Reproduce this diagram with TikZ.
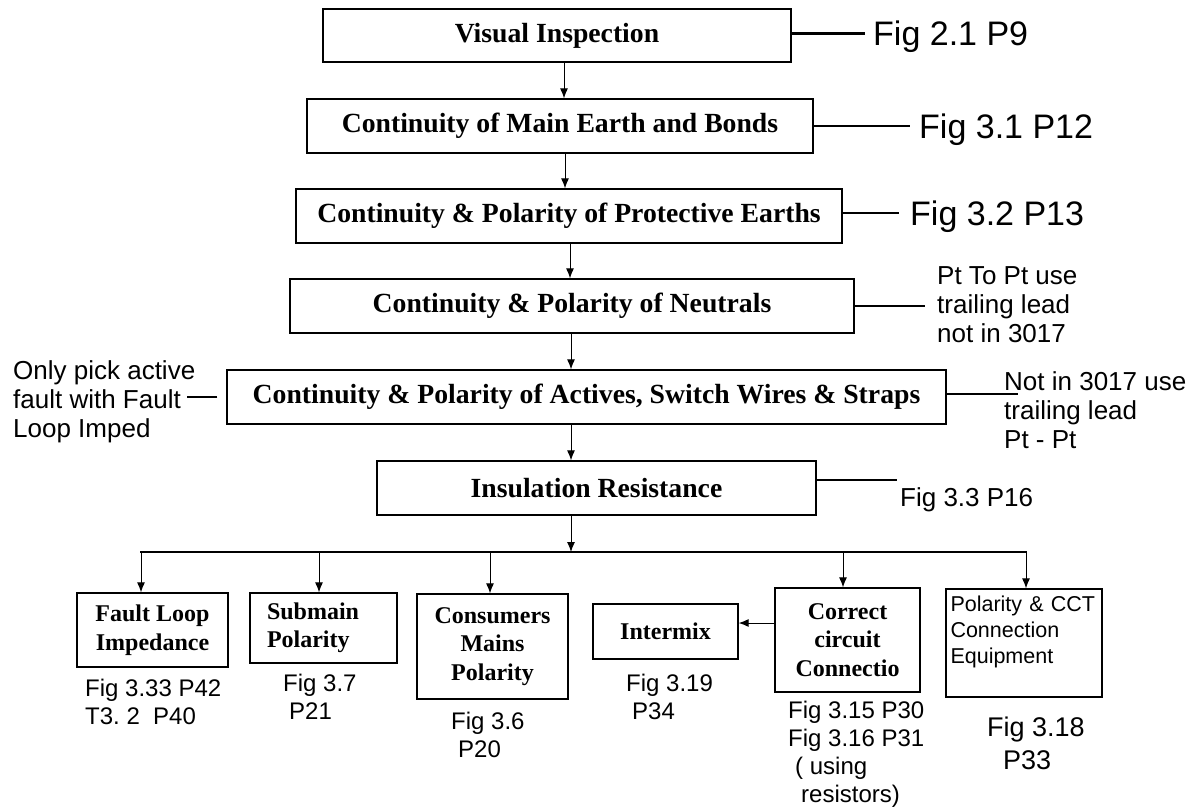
\documentclass[tikz,border=0pt]{standalone}
\usepackage{fontspec}
\setmainfont{Liberation Serif}
\newfontfamily\arial{Liberation Sans}
\usetikzlibrary{arrows.meta}
\tikzset{
 box/.style={draw, line width=1.3pt, inner sep=0pt, font=\bfseries\fontsize{27.7}{32}\selectfont},
 sbox/.style={draw, line width=1.3pt, inner sep=0pt, align=center, font=\bfseries\fontsize{24}{28.5}\selectfont},
 arr/.style={line width=1pt, -{Latex[length=10pt,width=8pt]}},
 lab/.style={line width=2.3pt},
 big/.style={font=\arial\fontsize{34}{40}\selectfont, inner sep=0pt, anchor=base west},
 mid/.style={font=\arial\fontsize{26}{29}\selectfont, inner sep=0pt, align=left, anchor=west},
 small/.style={font=\arial\fontsize{24}{28}\selectfont, inner sep=0pt, align=left, anchor=west},
}
\begin{document}
\begin{tikzpicture}[x=1pt,y=-1pt]
\fill[white] (0,0) rectangle (1199,809);
\useasboundingbox (0,0) rectangle (1199,809);

% main chain
\node[box, minimum width=468pt, minimum height=53pt] (b1) at (557,35.5) {Visual Inspection};
\node[box, minimum width=506pt, minimum height=54pt] (b2) at (560,126) {Continuity of Main Earth and Bonds};
\node[box, minimum width=546pt, minimum height=54pt] (b3) at (569,216) {Continuity \& Polarity of Protective Earths};
\node[box, minimum width=564pt, minimum height=54pt] (b4) at (572,306) {Continuity \& Polarity of Neutrals};
\node[box, minimum width=719pt, minimum height=54pt] (b5) at (586.5,397) {Continuity \& Polarity of Actives, Switch Wires \& Straps};
\node[box, minimum width=439pt, minimum height=54pt] (b6) at (596.5,488) {Insulation Resistance};

\draw[arr] ([xshift=7pt]b1.south) -- ([xshift=4pt]b2.north);
\draw[arr] ([xshift=5pt]b2.south) -- ([xshift=-4pt]b3.north);
\draw[arr] ([xshift=1pt]b3.south) -- ([xshift=-2pt]b4.north);
\draw[arr] ([xshift=-1pt]b4.south) -- ([xshift=-15.5pt]b5.north);
\draw[arr] ([xshift=-15.5pt]b5.south) -- ([xshift=-25.5pt]b6.north);

\coordinate (br) at (571,552);
\draw[arr] (b6.south -| br) -- (br);

% bottom row
\node[sbox, minimum width=151pt, minimum height=74pt] (fault) at (152.5,630) {Fault Loop\\Impedance};
\node[sbox, align=left, text width=113pt, inner xsep=17pt, minimum height=70pt] (sub) at (323.5,628) {Submain\\Polarity};
\node[sbox, minimum width=151pt, minimum height=105pt] (cons) at (492.5,646.5) {Consumers\\Mains\\Polarity};
\node[sbox, minimum width=145pt, minimum height=55pt] (inter) at (665.5,631.5) {Intermix};
\node[sbox, minimum width=145pt, minimum height=104pt] (corr) at (847.5,640) {Correct\\circuit\\Connectio};
\node[draw, line width=1.3pt, align=left, text width=147pt, inner xsep=4.5pt, inner ysep=0pt, minimum height=108pt,
      font=\arial\fontsize{21.5}{26}\selectfont] (pol) at (1024,643) {Polarity \& CCT\\Connection\\Equipment\\\mbox{}};

\coordinate (fa) at ([xshift=-11.5pt]fault.north);
\coordinate (sa) at ([xshift=-4.5pt]sub.north);
\coordinate (ca) at ([xshift=-2.5pt]cons.north);
\coordinate (ra) at ([xshift=-4.5pt]corr.north);
\coordinate (pa) at ([xshift=2pt]pol.north);
\draw[line width=1.1pt] ([xshift=-1pt]fa |- br) -- ([xshift=1pt]pa |- br);
\draw[arr] (fa |- br) -- (fa);
\draw[arr] (sa |- br) -- (sa);
\draw[arr] (ca |- br) -- (ca);
\draw[arr] (ra |- br) -- (ra);
\draw[arr] (pa |- br) -- (pa);
\draw[arr] ([yshift=17pt]corr.west) -- ([yshift=17pt]corr.west -| inter.east);

% side labels
\node[big] (l1) at (873,45) {Fig 2.1 P9};
\node[big] (l2) at (919,138) {Fig 3.1 P12};
\node[big] (l3) at (910,225) {Fig 3.2 P13};
\draw[lab, shorten >=8pt] ([yshift=2pt]b1.east) -- ([yshift=2pt]b1.east -| l1.west);
\draw[lab, shorten >=9pt] (b2.east) -- (b2.east -| l2.west);
\draw[lab, shorten >=11pt] ([yshift=3pt]b3.east) -- ([yshift=3pt]b3.east -| l3.west);

\node[mid] (l4) at (937,305) {Pt To Pt use\\trailing lead\\not in 3017};
\draw[lab, shorten >=12pt] (b4.east) -- (b4.east -| l4.west);

\node[mid] (l5r) at (1004,410) {Not in 3017 use\\trailing lead\\Pt - Pt};
\draw[lab] ([yshift=3pt]b5.east) -- ([xshift=71pt,yshift=3pt]b5.east);

\node[mid] (l5l) at (13,402) {Only pick active\\fault with Fault\\Loop Imped};
\draw[lab] ([xshift=-9pt]b5.west) -- ([xshift=-39pt]b5.west);

\node[font=\arial\fontsize{26}{29}\selectfont, inner sep=0pt, anchor=base west] (l6) at (900,506) {Fig 3.3 P16};
\draw[lab, shorten >=3pt] ([yshift=8pt]b6.east) -- ([yshift=8pt]b6.east -| l6.west);

% bottom labels
\node[small] (fl) at (85,702) {Fig 3.33 P42\\T3.\ 2\ \ P40};
\node[small] (sl) at (283,697) {Fig 3.7\\\hspace*{6pt}P21};
\node[small] (cl) at (451,735) {Fig 3.6\\\hspace*{7pt}P20};
\node[small] (il) at (626,697) {Fig 3.19\\\hspace*{6pt}P34};
\node[small] (rl) at (788,754) {Fig 3.15 P30\\Fig 3.16 P31\\\hspace*{7pt}( using\\\hspace*{13pt}resistors)};
\node[small, font=\arial\fontsize{27}{33}\selectfont] (pl) at (987,743) {Fig 3.18\\\hspace*{16pt}P33};
\end{tikzpicture}
\end{document}
